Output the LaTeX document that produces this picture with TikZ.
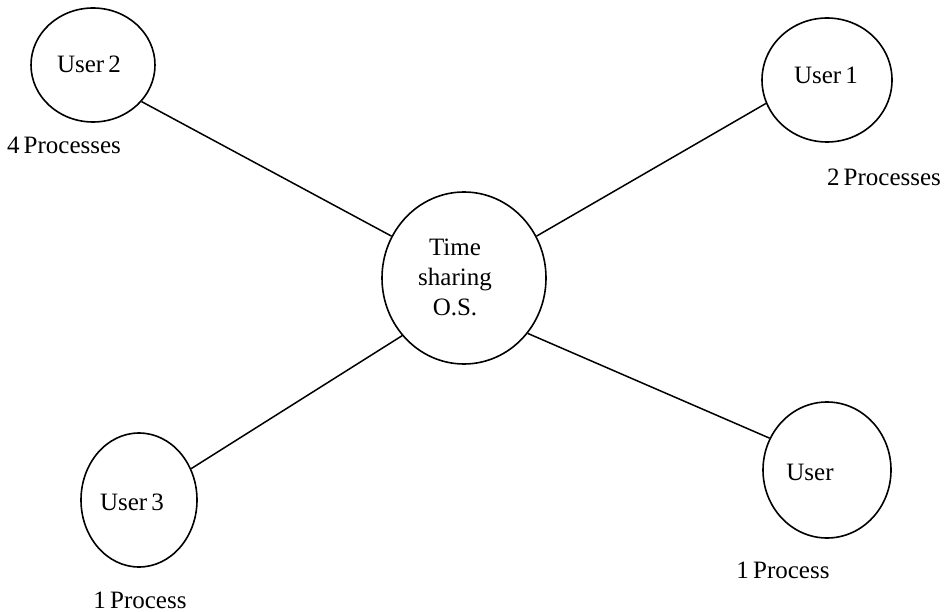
\documentclass[tikz,border=0pt]{standalone}
\usepackage{fontspec}
\setmainfont{Liberation Serif}
\usetikzlibrary{shapes.geometric}
\begin{document}
\begin{tikzpicture}[x=1pt,y=-1pt,
  usr/.style={draw, ellipse, line width=1.6pt, inner sep=0pt},
  lbl/.style={font=\fontsize{25}{30}\selectfont, inner sep=0pt},
  conn/.style={line width=1.5pt}]
\useasboundingbox (0,0) rectangle (944,612);
\node[usr, minimum width=124pt, minimum height=114pt] (u2) at (93,65) {};
\node[usr, minimum width=130pt, minimum height=124pt] (u1) at (827,80) {};
\node[usr, minimum width=164pt, minimum height=172pt] (os) at (464,278) {};
\node[usr, minimum width=116pt, minimum height=134pt] (u3) at (139,500) {};
\node[usr, minimum width=128pt, minimum height=136pt] (u4) at (827,470) {};
\node[lbl] (t2) at (89,64) {User\,2};
\node[lbl] (t1) at (826,75) {User\,1};
\node[lbl, align=center] (tos) at (455,277) {Time\\sharing\\O.S.};
\node[lbl] (t3) at (132,502) {User\,3};
\node[lbl] (t4) at (810,472) {User};
\node[lbl] (p2) at (64,145) {4\,Processes};
\node[lbl] (p1) at (884,177) {2\,Processes};
\node[lbl] (p3) at (140,600) {1\,Process};
\node[lbl] (p4) at (783,570) {1\,Process};
\draw[conn] (u2.-37) -- (os.150);
\draw[conn] (u1.201) -- (os.30);
\draw[conn] (os.223) -- (u3.31);
\draw[conn] (os.-41) -- (u4.151);
\end{tikzpicture}
\end{document}
